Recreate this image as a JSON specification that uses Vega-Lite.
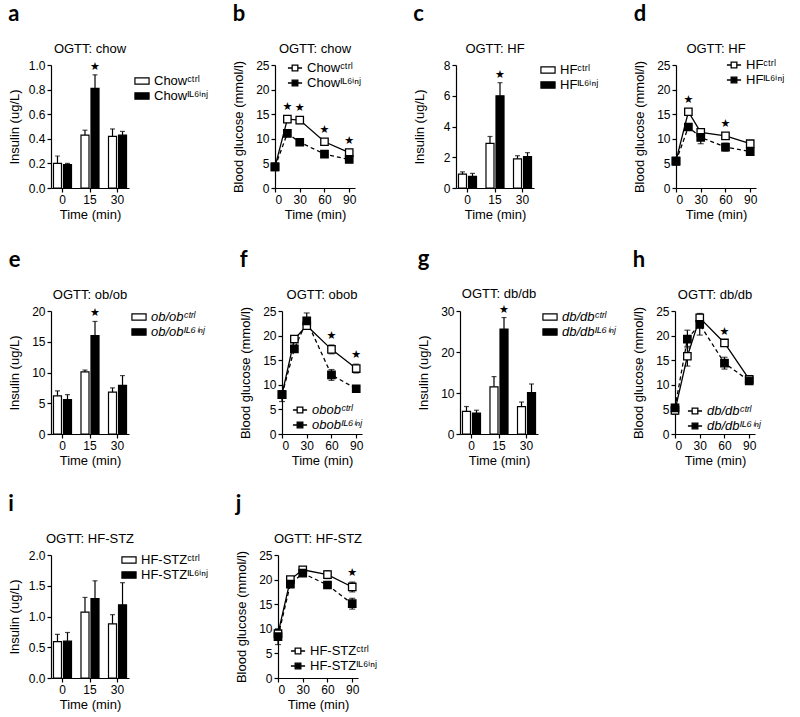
{
"$schema": "https://vega.github.io/schema/vega-lite/v6.json",
"background": "white",
"padding": {"left": 8, "top": 3, "right": 5, "bottom": 5},
"config": {
 "font": "Liberation Sans",
 "view": {"stroke": null},
 "axis": {"grid": false, "domainColor": "black", "tickColor": "black", "labelColor": "black", "titleColor": "black", "labelFontSize": 12, "titleFontSize": 13, "titleFontWeight": "normal", "tickSize": 4, "labelPadding": 2, "titlePadding": 10, "domainWidth": 1.2, "tickWidth": 1.2, "labelFont": "Liberation Sans", "titleFont": "Liberation Sans"},
 "axisX": {"labelAngle": 0, "titlePadding": 3},
 "legend": {"title": null, "labelFontSize": 13, "labelColor": "black", "orient": "none", "rowPadding": 0, "labelOffset": 4, "labelFont": "Liberation Sans"},
 "title": {"fontSize": 13, "fontWeight": "normal", "color": "black", "anchor": "middle", "frame": "group", "offset": 3, "font": "Liberation Sans"}
},
"datasets": {
 "a": [
  {"t": "0", "g": "Ctrl", "v": 0.20, "hi": 0.26},
  {"t": "0", "g": "IL6inj", "v": 0.19, "hi": 0.20},
  {"t": "15", "g": "Ctrl", "v": 0.43, "hi": 0.47},
  {"t": "15", "g": "IL6inj", "v": 0.81, "hi": 0.92, "sig": true},
  {"t": "30", "g": "Ctrl", "v": 0.42, "hi": 0.48},
  {"t": "30", "g": "IL6inj", "v": 0.43, "hi": 0.46}
 ],
 "b": [
  {"t": 0, "g": "Ctrl", "v": 4.3, "lo": 3.8, "hi": 4.8},
  {"t": 15, "g": "Ctrl", "v": 14.0, "lo": 13.3, "hi": 14.7, "sig": true},
  {"t": 30, "g": "Ctrl", "v": 13.8, "lo": 13.1, "hi": 14.5, "sig": true},
  {"t": 60, "g": "Ctrl", "v": 9.4, "lo": 8.9, "hi": 9.9, "sig": true},
  {"t": 90, "g": "Ctrl", "v": 7.2, "lo": 6.6, "hi": 7.8, "sig": true},
  {"t": 0, "g": "IL6inj", "v": 4.3, "lo": 3.9, "hi": 4.7},
  {"t": 15, "g": "IL6inj", "v": 11.1, "lo": 10.6, "hi": 11.6},
  {"t": 30, "g": "IL6inj", "v": 9.3, "lo": 8.9, "hi": 9.7},
  {"t": 60, "g": "IL6inj", "v": 6.9, "lo": 6.5, "hi": 7.3},
  {"t": 90, "g": "IL6inj", "v": 5.8, "lo": 5.3, "hi": 6.3}
 ],
 "c": [
  {"t": "0", "g": "Ctrl", "v": 0.9, "hi": 1.05},
  {"t": "0", "g": "IL6inj", "v": 0.75, "hi": 0.95},
  {"t": "15", "g": "Ctrl", "v": 2.9, "hi": 3.35},
  {"t": "15", "g": "IL6inj", "v": 6.0, "hi": 6.85, "sig": true},
  {"t": "30", "g": "Ctrl", "v": 1.9, "hi": 2.1},
  {"t": "30", "g": "IL6inj", "v": 2.05, "hi": 2.3}
 ],
 "d": [
  {"t": 0, "g": "Ctrl", "v": 5.5, "lo": 5.0, "hi": 6.0},
  {"t": 15, "g": "Ctrl", "v": 15.5, "lo": 14.9, "hi": 16.1, "sig": true},
  {"t": 30, "g": "Ctrl", "v": 11.3, "lo": 10.8, "hi": 11.8},
  {"t": 60, "g": "Ctrl", "v": 10.6, "lo": 10.1, "hi": 11.1, "sig": true},
  {"t": 90, "g": "Ctrl", "v": 9.0, "lo": 8.5, "hi": 9.5},
  {"t": 0, "g": "IL6inj", "v": 5.4, "lo": 5.0, "hi": 5.8},
  {"t": 15, "g": "IL6inj", "v": 12.4, "lo": 12.0, "hi": 12.8},
  {"t": 30, "g": "IL6inj", "v": 10.3, "lo": 9.0, "hi": 11.6},
  {"t": 60, "g": "IL6inj", "v": 8.3, "lo": 7.5, "hi": 9.1},
  {"t": 90, "g": "IL6inj", "v": 7.4, "lo": 7.0, "hi": 7.8}
 ],
 "e": [
  {"t": "0", "g": "Ctrl", "v": 6.2, "hi": 7.0},
  {"t": "0", "g": "IL6inj", "v": 5.6, "hi": 6.4},
  {"t": "15", "g": "Ctrl", "v": 10.1, "hi": 10.4},
  {"t": "15", "g": "IL6inj", "v": 16.0, "hi": 18.3, "sig": true},
  {"t": "30", "g": "Ctrl", "v": 6.8, "hi": 7.5},
  {"t": "30", "g": "IL6inj", "v": 7.9, "hi": 9.5}
 ],
 "f": [
  {"t": 0, "g": "Ctrl", "v": 8.0, "lo": 7.3, "hi": 8.7},
  {"t": 15, "g": "Ctrl", "v": 19.3, "lo": 18.7, "hi": 19.9},
  {"t": 30, "g": "Ctrl", "v": 22.0, "lo": 21.3, "hi": 22.7},
  {"t": 60, "g": "Ctrl", "v": 17.2, "lo": 16.3, "hi": 18.1, "sig": true},
  {"t": 90, "g": "Ctrl", "v": 13.3, "lo": 12.4, "hi": 14.2, "sig": true},
  {"t": 0, "g": "IL6inj", "v": 8.0, "lo": 6.6, "hi": 8.8},
  {"t": 15, "g": "IL6inj", "v": 17.3, "lo": 16.7, "hi": 17.9},
  {"t": 30, "g": "IL6inj", "v": 23.0, "lo": 21.4, "hi": 24.6},
  {"t": 60, "g": "IL6inj", "v": 12.0, "lo": 10.9, "hi": 13.1},
  {"t": 90, "g": "IL6inj", "v": 9.2, "lo": 8.7, "hi": 9.7}
 ],
 "g": [
  {"t": "0", "g": "Ctrl", "v": 5.5, "hi": 6.7},
  {"t": "0", "g": "IL6inj", "v": 5.1, "hi": 5.8},
  {"t": "15", "g": "Ctrl", "v": 11.5, "hi": 14.0},
  {"t": "15", "g": "IL6inj", "v": 25.6, "hi": 28.4, "sig": true},
  {"t": "30", "g": "Ctrl", "v": 6.7, "hi": 7.8},
  {"t": "30", "g": "IL6inj", "v": 10.1, "hi": 12.2}
 ],
 "h": [
  {"t": 0, "g": "Ctrl", "v": 4.8, "lo": 4.0, "hi": 5.6},
  {"t": 15, "g": "Ctrl", "v": 15.8, "lo": 13.8, "hi": 17.8},
  {"t": 30, "g": "Ctrl", "v": 23.6, "lo": 22.9, "hi": 24.3},
  {"t": 60, "g": "Ctrl", "v": 18.5, "lo": 18.0, "hi": 19.0, "sig": true},
  {"t": 90, "g": "Ctrl", "v": 11.1, "lo": 10.6, "hi": 11.6},
  {"t": 0, "g": "IL6inj", "v": 5.3, "lo": 4.6, "hi": 6.0},
  {"t": 15, "g": "IL6inj", "v": 19.3, "lo": 17.5, "hi": 21.1},
  {"t": 30, "g": "IL6inj", "v": 22.3, "lo": 20.1, "hi": 24.5},
  {"t": 60, "g": "IL6inj", "v": 14.4, "lo": 13.2, "hi": 15.6},
  {"t": 90, "g": "IL6inj", "v": 10.8, "lo": 10.3, "hi": 11.3}
 ],
 "i": [
  {"t": "0", "g": "Ctrl", "v": 0.59, "hi": 0.71},
  {"t": "0", "g": "IL6inj", "v": 0.60, "hi": 0.74},
  {"t": "15", "g": "Ctrl", "v": 1.07, "hi": 1.31},
  {"t": "15", "g": "IL6inj", "v": 1.29, "hi": 1.58},
  {"t": "30", "g": "Ctrl", "v": 0.88, "hi": 1.03},
  {"t": "30", "g": "IL6inj", "v": 1.19, "hi": 1.55}
 ],
 "j": [
  {"t": 0, "g": "Ctrl", "v": 9.0, "lo": 8.0, "hi": 10.0},
  {"t": 15, "g": "Ctrl", "v": 20.0, "lo": 19.5, "hi": 20.5},
  {"t": 30, "g": "Ctrl", "v": 22.0, "lo": 21.5, "hi": 22.5},
  {"t": 60, "g": "Ctrl", "v": 21.0, "lo": 20.2, "hi": 21.8},
  {"t": 90, "g": "Ctrl", "v": 18.5, "lo": 17.5, "hi": 19.5, "sig": true},
  {"t": 0, "g": "IL6inj", "v": 8.4, "lo": 6.8, "hi": 9.4},
  {"t": 15, "g": "IL6inj", "v": 19.1, "lo": 18.6, "hi": 19.6},
  {"t": 30, "g": "IL6inj", "v": 21.3, "lo": 20.8, "hi": 21.8},
  {"t": 60, "g": "IL6inj", "v": 18.9, "lo": 18.2, "hi": 19.6},
  {"t": 90, "g": "IL6inj", "v": 15.1, "lo": 14.0, "hi": 16.2}
 ]
},
"resolve": {"scale": {"fill": "independent", "x": "independent", "y": "independent", "xOffset": "independent"}, "legend": {"fill": "independent"}},
"spacing": 26,
"vconcat": [
 {
  "resolve": {"scale": {"fill": "independent", "x": "independent", "y": "independent", "xOffset": "independent"}, "legend": {"fill": "independent"}},
  "spacing": 51,
  "hconcat": [
   {
    "resolve": {"scale": {"fill": "independent", "x": "independent", "y": "independent", "xOffset": "independent"}, "legend": {"fill": "independent"}},
    "spacing": 23,
    "hconcat": [
     {
      "title": {"text": "a", "anchor": "start", "frame": "bounds", "fontSize": 22, "fontWeight": "bold", "font": "Lato", "offset": 17},
      "vconcat": [
       {
        "title": "OGTT: chow",
        "width": 78, "height": 123,
        "data": {"name": "a"},
        "encoding": {
         "x": {"field": "t", "type": "ordinal", "sort": ["0", "15", "30"], "title": "Time (min)", "scale": {"paddingInner": 0.345, "paddingOuter": 0.09}},
         "xOffset": {"field": "g", "type": "nominal", "sort": ["Ctrl", "IL6inj"], "scale": {"paddingInner": 0.2, "paddingOuter": 0}}
        },
        "layer": [
         {"mark": {"type": "rule", "color": "black", "strokeWidth": 1.2}, "encoding": {"y": {"field": "v", "type": "quantitative", "scale": {"domain": [0, 1]}, "title": "Insulin (ug/L)", "axis": {"values": [0, 0.2, 0.4, 0.6, 0.8, 1], "format": ".1f", "titlePadding": 7}}, "y2": {"field": "hi"}}},
         {"mark": {"type": "tick", "orient": "horizontal", "color": "black", "size": 5, "thickness": 1.2}, "encoding": {"y": {"field": "hi", "type": "quantitative", "scale": {"domain": [0, 1]}, "title": "Insulin (ug/L)", "axis": {"values": [0, 0.2, 0.4, 0.6, 0.8, 1], "format": ".1f", "titlePadding": 7}}}},
         {"mark": {"type": "bar", "stroke": "black", "strokeWidth": 1.2}, "encoding": {"y": {"field": "v", "type": "quantitative", "scale": {"domain": [0, 1]}, "title": "Insulin (ug/L)", "axis": {"values": [0, 0.2, 0.4, 0.6, 0.8, 1], "format": ".1f", "titlePadding": 7}},
           "fill": {"field": "g", "type": "nominal", "scale": {"domain": ["Ctrl", "IL6inj"], "range": ["white", "black"]}, "legend": {"legendX": 83, "legendY": 8, "labelExpr": "'Chow' + (datum.label == 'Ctrl' ? 'ᶜᵗʳˡ' : 'ᴵᴸ⁶ⁱⁿʲ')", "symbolType": "M-1,-0.45H1V0.45H-1Z", "symbolSize": 200, "symbolStrokeColor": "black", "symbolStrokeWidth": 1.2, "encode": {"symbols": {"update": {"shape": {"value": "M-1,-0.45H1V0.45H-1Z"}, "stroke": {"value": "black"}, "strokeWidth": {"value": 1.2}}}}}}}},
         {"transform": [{"filter": "datum.sig"}], "mark": {"type": "text", "text": "★", "dy": -8, "fontSize": 11, "color": "black", "font": "DejaVu Sans"}, "encoding": {"y": {"field": "hi", "type": "quantitative", "scale": {"domain": [0, 1]}, "title": "Insulin (ug/L)", "axis": {"values": [0, 0.2, 0.4, 0.6, 0.8, 1], "format": ".1f", "titlePadding": 7}}}}
        ]
       }
      ]
     },
     {
      "title": {"text": "b", "anchor": "start", "frame": "bounds", "fontSize": 22, "fontWeight": "bold", "font": "Lato", "offset": 17},
      "vconcat": [
       {
        "title": "OGTT: chow",
        "width": 80, "height": 123,
        "data": {"name": "b"},
        "encoding": {
         "x": {"field": "t", "type": "quantitative", "scale": {"domain": [0, 97], "nice": false}, "title": "Time (min)", "axis": {"values": [0, 30, 60, 90]}}
        },
        "layer": [
         {"mark": {"type": "rule", "color": "black", "strokeWidth": 1.2}, "encoding": {"y": {"field": "lo", "type": "quantitative", "scale": {"domain": [0, 25]}, "title": "Blood glucose (mmol/l)", "axis": {"values": [0, 5, 10, 15, 20, 25]}}, "y2": {"field": "hi"}}},
         {"mark": {"type": "tick", "orient": "horizontal", "color": "black", "size": 6, "thickness": 1.2}, "encoding": {"y": {"field": "lo", "type": "quantitative", "scale": {"domain": [0, 25]}, "title": "Blood glucose (mmol/l)", "axis": {"values": [0, 5, 10, 15, 20, 25]}}}},
         {"mark": {"type": "tick", "orient": "horizontal", "color": "black", "size": 6, "thickness": 1.2}, "encoding": {"y": {"field": "hi", "type": "quantitative", "scale": {"domain": [0, 25]}, "title": "Blood glucose (mmol/l)", "axis": {"values": [0, 5, 10, 15, 20, 25]}}}},
         {"transform": [{"filter": "datum.g == 'Ctrl'"}], "mark": {"type": "line", "color": "black", "strokeWidth": 1.3}, "encoding": {"y": {"field": "v", "type": "quantitative", "scale": {"domain": [0, 25]}, "title": "Blood glucose (mmol/l)", "axis": {"values": [0, 5, 10, 15, 20, 25]}}}},
         {"transform": [{"filter": "datum.g == 'IL6inj'"}], "mark": {"type": "line", "color": "black", "strokeWidth": 1.3, "strokeDash": [4, 3]}, "encoding": {"y": {"field": "v", "type": "quantitative", "scale": {"domain": [0, 25]}, "title": "Blood glucose (mmol/l)", "axis": {"values": [0, 5, 10, 15, 20, 25]}}}},
         {"mark": {"type": "point", "shape": "square", "filled": true, "stroke": "black", "strokeWidth": 1.3, "size": 55, "opacity": 1}, "encoding": {"y": {"field": "v", "type": "quantitative", "scale": {"domain": [0, 25]}, "title": "Blood glucose (mmol/l)", "axis": {"values": [0, 5, 10, 15, 20, 25]}},
           "fill": {"field": "g", "type": "nominal", "scale": {"domain": ["Ctrl", "IL6inj"], "range": ["white", "black"]}, "legend": {"legendX": 12, "legendY": -5, "labelExpr": "'Chow' + (datum.label == 'Ctrl' ? 'ᶜᵗʳˡ' : 'ᴵᴸ⁶ⁱⁿʲ')", "symbolType": "M-1,0H-0.4M0.4,0H1M-0.4,-0.4H0.4V0.4H-0.4Z", "symbolSize": 200, "symbolStrokeColor": "black", "symbolStrokeWidth": 1.3}}}},
         {"transform": [{"filter": "datum.sig"}], "mark": {"type": "text", "text": "★", "dy": -9, "fontSize": 11, "color": "black", "font": "DejaVu Sans"}, "encoding": {"y": {"field": "hi", "type": "quantitative", "scale": {"domain": [0, 25]}, "title": "Blood glucose (mmol/l)", "axis": {"values": [0, 5, 10, 15, 20, 25]}}}}
        ]
       }
      ]
     }
    ]
   },
   {
    "resolve": {"scale": {"fill": "independent", "x": "independent", "y": "independent", "xOffset": "independent"}, "legend": {"fill": "independent"}},
    "spacing": 34,
    "hconcat": [
     {
      "title": {"text": "c", "anchor": "start", "frame": "bounds", "fontSize": 22, "fontWeight": "bold", "font": "Lato", "offset": 17},
      "vconcat": [
       {
        "title": "OGTT: HF",
        "width": 78, "height": 123,
        "data": {"name": "c"},
        "encoding": {
         "x": {"field": "t", "type": "ordinal", "sort": ["0", "15", "30"], "title": "Time (min)", "scale": {"paddingInner": 0.345, "paddingOuter": 0.09}},
         "xOffset": {"field": "g", "type": "nominal", "sort": ["Ctrl", "IL6inj"], "scale": {"paddingInner": 0.2, "paddingOuter": 0}}
        },
        "layer": [
         {"mark": {"type": "rule", "color": "black", "strokeWidth": 1.2}, "encoding": {"y": {"field": "v", "type": "quantitative", "scale": {"domain": [0, 8]}, "title": "Insulin (ug/L)", "axis": {"values": [0, 2, 4, 6, 8], "titlePadding": 17}}, "y2": {"field": "hi"}}},
         {"mark": {"type": "tick", "orient": "horizontal", "color": "black", "size": 5, "thickness": 1.2}, "encoding": {"y": {"field": "hi", "type": "quantitative", "scale": {"domain": [0, 8]}, "title": "Insulin (ug/L)", "axis": {"values": [0, 2, 4, 6, 8], "titlePadding": 17}}}},
         {"mark": {"type": "bar", "stroke": "black", "strokeWidth": 1.2}, "encoding": {"y": {"field": "v", "type": "quantitative", "scale": {"domain": [0, 8]}, "title": "Insulin (ug/L)", "axis": {"values": [0, 2, 4, 6, 8], "titlePadding": 17}},
           "fill": {"field": "g", "type": "nominal", "scale": {"domain": ["Ctrl", "IL6inj"], "range": ["white", "black"]}, "legend": {"legendX": 84, "legendY": -3, "labelExpr": "'HF' + (datum.label == 'Ctrl' ? 'ᶜᵗʳˡ' : 'ᴵᴸ⁶ⁱⁿʲ')", "symbolType": "M-1,-0.45H1V0.45H-1Z", "symbolSize": 200, "symbolStrokeColor": "black", "symbolStrokeWidth": 1.2, "encode": {"symbols": {"update": {"shape": {"value": "M-1,-0.45H1V0.45H-1Z"}, "stroke": {"value": "black"}, "strokeWidth": {"value": 1.2}}}}}}}},
         {"transform": [{"filter": "datum.sig"}], "mark": {"type": "text", "text": "★", "dy": -8, "fontSize": 11, "color": "black", "font": "DejaVu Sans"}, "encoding": {"y": {"field": "hi", "type": "quantitative", "scale": {"domain": [0, 8]}, "title": "Insulin (ug/L)", "axis": {"values": [0, 2, 4, 6, 8], "titlePadding": 17}}}}
        ]
       }
      ]
     },
     {
      "title": {"text": "d", "anchor": "start", "frame": "bounds", "fontSize": 22, "fontWeight": "bold", "font": "Lato", "offset": 17},
      "vconcat": [
       {
        "title": "OGTT: HF",
        "width": 80, "height": 123,
        "data": {"name": "d"},
        "encoding": {
         "x": {"field": "t", "type": "quantitative", "scale": {"domain": [0, 97], "nice": false}, "title": "Time (min)", "axis": {"values": [0, 30, 60, 90]}}
        },
        "layer": [
         {"mark": {"type": "rule", "color": "black", "strokeWidth": 1.2}, "encoding": {"y": {"field": "lo", "type": "quantitative", "scale": {"domain": [0, 25]}, "title": "Blood glucose (mmol/l)", "axis": {"values": [0, 5, 10, 15, 20, 25]}}, "y2": {"field": "hi"}}},
         {"mark": {"type": "tick", "orient": "horizontal", "color": "black", "size": 6, "thickness": 1.2}, "encoding": {"y": {"field": "lo", "type": "quantitative", "scale": {"domain": [0, 25]}, "title": "Blood glucose (mmol/l)", "axis": {"values": [0, 5, 10, 15, 20, 25]}}}},
         {"mark": {"type": "tick", "orient": "horizontal", "color": "black", "size": 6, "thickness": 1.2}, "encoding": {"y": {"field": "hi", "type": "quantitative", "scale": {"domain": [0, 25]}, "title": "Blood glucose (mmol/l)", "axis": {"values": [0, 5, 10, 15, 20, 25]}}}},
         {"transform": [{"filter": "datum.g == 'Ctrl'"}], "mark": {"type": "line", "color": "black", "strokeWidth": 1.3}, "encoding": {"y": {"field": "v", "type": "quantitative", "scale": {"domain": [0, 25]}, "title": "Blood glucose (mmol/l)", "axis": {"values": [0, 5, 10, 15, 20, 25]}}}},
         {"transform": [{"filter": "datum.g == 'IL6inj'"}], "mark": {"type": "line", "color": "black", "strokeWidth": 1.3, "strokeDash": [4, 3]}, "encoding": {"y": {"field": "v", "type": "quantitative", "scale": {"domain": [0, 25]}, "title": "Blood glucose (mmol/l)", "axis": {"values": [0, 5, 10, 15, 20, 25]}}}},
         {"mark": {"type": "point", "shape": "square", "filled": true, "stroke": "black", "strokeWidth": 1.3, "size": 55, "opacity": 1}, "encoding": {"y": {"field": "v", "type": "quantitative", "scale": {"domain": [0, 25]}, "title": "Blood glucose (mmol/l)", "axis": {"values": [0, 5, 10, 15, 20, 25]}},
           "fill": {"field": "g", "type": "nominal", "scale": {"domain": ["Ctrl", "IL6inj"], "range": ["white", "black"]}, "legend": {"legendX": 50, "legendY": -8, "labelExpr": "'HF' + (datum.label == 'Ctrl' ? 'ᶜᵗʳˡ' : 'ᴵᴸ⁶ⁱⁿʲ')", "symbolType": "M-1,0H-0.4M0.4,0H1M-0.4,-0.4H0.4V0.4H-0.4Z", "symbolSize": 200, "symbolStrokeColor": "black", "symbolStrokeWidth": 1.3}}}},
         {"transform": [{"filter": "datum.sig"}], "mark": {"type": "text", "text": "★", "dy": -9, "fontSize": 11, "color": "black", "font": "DejaVu Sans"}, "encoding": {"y": {"field": "hi", "type": "quantitative", "scale": {"domain": [0, 25]}, "title": "Blood glucose (mmol/l)", "axis": {"values": [0, 5, 10, 15, 20, 25]}}}}
        ]
       }
      ]
     }
    ]
   }
  ]
 },
 {
  "resolve": {"scale": {"fill": "independent", "x": "independent", "y": "independent", "xOffset": "independent"}, "legend": {"fill": "independent"}},
  "spacing": 54,
  "hconcat": [
   {
    "resolve": {"scale": {"fill": "independent", "x": "independent", "y": "independent", "xOffset": "independent"}, "legend": {"fill": "independent"}},
    "spacing": 34,
    "hconcat": [
     {
      "title": {"text": "e", "anchor": "start", "frame": "bounds", "fontSize": 22, "fontWeight": "bold", "font": "Lato", "offset": 17},
      "vconcat": [
       {
        "title": "OGTT: ob/ob",
        "width": 78, "height": 123,
        "data": {"name": "e"},
        "encoding": {
         "x": {"field": "t", "type": "ordinal", "sort": ["0", "15", "30"], "title": "Time (min)", "scale": {"paddingInner": 0.345, "paddingOuter": 0.09}},
         "xOffset": {"field": "g", "type": "nominal", "sort": ["Ctrl", "IL6inj"], "scale": {"paddingInner": 0.2, "paddingOuter": 0}}
        },
        "layer": [
         {"mark": {"type": "rule", "color": "black", "strokeWidth": 1.2}, "encoding": {"y": {"field": "v", "type": "quantitative", "scale": {"domain": [0, 20]}, "title": "Insulin (ug/L)", "axis": {"values": [0, 5, 10, 15, 20]}}, "y2": {"field": "hi"}}},
         {"mark": {"type": "tick", "orient": "horizontal", "color": "black", "size": 5, "thickness": 1.2}, "encoding": {"y": {"field": "hi", "type": "quantitative", "scale": {"domain": [0, 20]}, "title": "Insulin (ug/L)", "axis": {"values": [0, 5, 10, 15, 20]}}}},
         {"mark": {"type": "bar", "stroke": "black", "strokeWidth": 1.2}, "encoding": {"y": {"field": "v", "type": "quantitative", "scale": {"domain": [0, 20]}, "title": "Insulin (ug/L)", "axis": {"values": [0, 5, 10, 15, 20]}},
           "fill": {"field": "g", "type": "nominal", "scale": {"domain": ["Ctrl", "IL6inj"], "range": ["white", "black"]}, "legend": {"legendX": 80, "legendY": -2, "labelFontStyle": "italic", "labelExpr": "'ob/ob' + (datum.label == 'Ctrl' ? 'ᶜᵗʳˡ' : 'ᴵᴸ⁶ⁱⁿʲ')", "symbolType": "M-1,-0.45H1V0.45H-1Z", "symbolSize": 200, "symbolStrokeColor": "black", "symbolStrokeWidth": 1.2, "encode": {"symbols": {"update": {"shape": {"value": "M-1,-0.45H1V0.45H-1Z"}, "stroke": {"value": "black"}, "strokeWidth": {"value": 1.2}}}}}}}},
         {"transform": [{"filter": "datum.sig"}], "mark": {"type": "text", "text": "★", "dy": -8, "fontSize": 11, "color": "black", "font": "DejaVu Sans"}, "encoding": {"y": {"field": "hi", "type": "quantitative", "scale": {"domain": [0, 20]}, "title": "Insulin (ug/L)", "axis": {"values": [0, 5, 10, 15, 20]}}}}
        ]
       }
      ]
     },
     {
      "title": {"text": "f", "anchor": "start", "frame": "bounds", "fontSize": 22, "fontWeight": "bold", "font": "Lato", "offset": 17},
      "vconcat": [
       {
        "title": "OGTT: obob",
        "width": 80, "height": 123,
        "data": {"name": "f"},
        "encoding": {
         "x": {"field": "t", "type": "quantitative", "scale": {"domain": [0, 97], "nice": false}, "title": "Time (min)", "axis": {"values": [0, 30, 60, 90]}}
        },
        "layer": [
         {"mark": {"type": "rule", "color": "black", "strokeWidth": 1.2}, "encoding": {"y": {"field": "lo", "type": "quantitative", "scale": {"domain": [0, 25]}, "title": "Blood glucose (mmol/l)", "axis": {"values": [0, 5, 10, 15, 20, 25]}}, "y2": {"field": "hi"}}},
         {"mark": {"type": "tick", "orient": "horizontal", "color": "black", "size": 6, "thickness": 1.2}, "encoding": {"y": {"field": "lo", "type": "quantitative", "scale": {"domain": [0, 25]}, "title": "Blood glucose (mmol/l)", "axis": {"values": [0, 5, 10, 15, 20, 25]}}}},
         {"mark": {"type": "tick", "orient": "horizontal", "color": "black", "size": 6, "thickness": 1.2}, "encoding": {"y": {"field": "hi", "type": "quantitative", "scale": {"domain": [0, 25]}, "title": "Blood glucose (mmol/l)", "axis": {"values": [0, 5, 10, 15, 20, 25]}}}},
         {"transform": [{"filter": "datum.g == 'Ctrl'"}], "mark": {"type": "line", "color": "black", "strokeWidth": 1.3}, "encoding": {"y": {"field": "v", "type": "quantitative", "scale": {"domain": [0, 25]}, "title": "Blood glucose (mmol/l)", "axis": {"values": [0, 5, 10, 15, 20, 25]}}}},
         {"transform": [{"filter": "datum.g == 'IL6inj'"}], "mark": {"type": "line", "color": "black", "strokeWidth": 1.3, "strokeDash": [4, 3]}, "encoding": {"y": {"field": "v", "type": "quantitative", "scale": {"domain": [0, 25]}, "title": "Blood glucose (mmol/l)", "axis": {"values": [0, 5, 10, 15, 20, 25]}}}},
         {"mark": {"type": "point", "shape": "square", "filled": true, "stroke": "black", "strokeWidth": 1.3, "size": 55, "opacity": 1}, "encoding": {"y": {"field": "v", "type": "quantitative", "scale": {"domain": [0, 25]}, "title": "Blood glucose (mmol/l)", "axis": {"values": [0, 5, 10, 15, 20, 25]}},
           "fill": {"field": "g", "type": "nominal", "scale": {"domain": ["Ctrl", "IL6inj"], "range": ["white", "black"]}, "legend": {"legendX": 10, "legendY": 91, "labelFontStyle": "italic", "labelExpr": "'obob' + (datum.label == 'Ctrl' ? 'ᶜᵗʳˡ' : 'ᴵᴸ⁶ⁱⁿʲ')", "symbolType": "M-1,0H-0.4M0.4,0H1M-0.4,-0.4H0.4V0.4H-0.4Z", "symbolSize": 200, "symbolStrokeColor": "black", "symbolStrokeWidth": 1.3}}}},
         {"transform": [{"filter": "datum.sig"}], "mark": {"type": "text", "text": "★", "dy": -9, "fontSize": 11, "color": "black", "font": "DejaVu Sans"}, "encoding": {"y": {"field": "hi", "type": "quantitative", "scale": {"domain": [0, 25]}, "title": "Blood glucose (mmol/l)", "axis": {"values": [0, 5, 10, 15, 20, 25]}}}}
        ]
       }
      ]
     }
    ]
   },
   {
    "resolve": {"scale": {"fill": "independent", "x": "independent", "y": "independent", "xOffset": "independent"}, "legend": {"fill": "independent"}},
    "spacing": 16,
    "hconcat": [
     {
      "title": {"text": "g", "anchor": "start", "frame": "bounds", "fontSize": 22, "fontWeight": "bold", "font": "Lato", "offset": 17},
      "vconcat": [
       {
        "title": "OGTT: db/db",
        "width": 78, "height": 123,
        "data": {"name": "g"},
        "encoding": {
         "x": {"field": "t", "type": "ordinal", "sort": ["0", "15", "30"], "title": "Time (min)", "scale": {"paddingInner": 0.345, "paddingOuter": 0.09}},
         "xOffset": {"field": "g", "type": "nominal", "sort": ["Ctrl", "IL6inj"], "scale": {"paddingInner": 0.2, "paddingOuter": 0}}
        },
        "layer": [
         {"mark": {"type": "rule", "color": "black", "strokeWidth": 1.2}, "encoding": {"y": {"field": "v", "type": "quantitative", "scale": {"domain": [0, 30]}, "title": "Insulin (ug/L)", "axis": {"values": [0, 10, 20, 30]}}, "y2": {"field": "hi"}}},
         {"mark": {"type": "tick", "orient": "horizontal", "color": "black", "size": 5, "thickness": 1.2}, "encoding": {"y": {"field": "hi", "type": "quantitative", "scale": {"domain": [0, 30]}, "title": "Insulin (ug/L)", "axis": {"values": [0, 10, 20, 30]}}}},
         {"mark": {"type": "bar", "stroke": "black", "strokeWidth": 1.2}, "encoding": {"y": {"field": "v", "type": "quantitative", "scale": {"domain": [0, 30]}, "title": "Insulin (ug/L)", "axis": {"values": [0, 10, 20, 30]}},
           "fill": {"field": "g", "type": "nominal", "scale": {"domain": ["Ctrl", "IL6inj"], "range": ["white", "black"]}, "legend": {"legendX": 82, "legendY": -2, "labelFontStyle": "italic", "labelExpr": "'db/db' + (datum.label == 'Ctrl' ? 'ᶜᵗʳˡ' : 'ᴵᴸ⁶ⁱⁿʲ')", "symbolType": "M-1,-0.45H1V0.45H-1Z", "symbolSize": 200, "symbolStrokeColor": "black", "symbolStrokeWidth": 1.2, "encode": {"symbols": {"update": {"shape": {"value": "M-1,-0.45H1V0.45H-1Z"}, "stroke": {"value": "black"}, "strokeWidth": {"value": 1.2}}}}}}}},
         {"transform": [{"filter": "datum.sig"}], "mark": {"type": "text", "text": "★", "dy": -8, "fontSize": 11, "color": "black", "font": "DejaVu Sans"}, "encoding": {"y": {"field": "hi", "type": "quantitative", "scale": {"domain": [0, 30]}, "title": "Insulin (ug/L)", "axis": {"values": [0, 10, 20, 30]}}}}
        ]
       }
      ]
     },
     {
      "title": {"text": "h", "anchor": "start", "frame": "bounds", "fontSize": 22, "fontWeight": "bold", "font": "Lato", "offset": 17},
      "vconcat": [
       {
        "title": "OGTT: db/db",
        "width": 80, "height": 123,
        "data": {"name": "h"},
        "encoding": {
         "x": {"field": "t", "type": "quantitative", "scale": {"domain": [0, 97], "nice": false}, "title": "Time (min)", "axis": {"values": [0, 30, 60, 90]}}
        },
        "layer": [
         {"mark": {"type": "rule", "color": "black", "strokeWidth": 1.2}, "encoding": {"y": {"field": "lo", "type": "quantitative", "scale": {"domain": [0, 25]}, "title": "Blood glucose (mmol/l)", "axis": {"values": [0, 5, 10, 15, 20, 25]}}, "y2": {"field": "hi"}}},
         {"mark": {"type": "tick", "orient": "horizontal", "color": "black", "size": 6, "thickness": 1.2}, "encoding": {"y": {"field": "lo", "type": "quantitative", "scale": {"domain": [0, 25]}, "title": "Blood glucose (mmol/l)", "axis": {"values": [0, 5, 10, 15, 20, 25]}}}},
         {"mark": {"type": "tick", "orient": "horizontal", "color": "black", "size": 6, "thickness": 1.2}, "encoding": {"y": {"field": "hi", "type": "quantitative", "scale": {"domain": [0, 25]}, "title": "Blood glucose (mmol/l)", "axis": {"values": [0, 5, 10, 15, 20, 25]}}}},
         {"transform": [{"filter": "datum.g == 'Ctrl'"}], "mark": {"type": "line", "color": "black", "strokeWidth": 1.3}, "encoding": {"y": {"field": "v", "type": "quantitative", "scale": {"domain": [0, 25]}, "title": "Blood glucose (mmol/l)", "axis": {"values": [0, 5, 10, 15, 20, 25]}}}},
         {"transform": [{"filter": "datum.g == 'IL6inj'"}], "mark": {"type": "line", "color": "black", "strokeWidth": 1.3, "strokeDash": [4, 3]}, "encoding": {"y": {"field": "v", "type": "quantitative", "scale": {"domain": [0, 25]}, "title": "Blood glucose (mmol/l)", "axis": {"values": [0, 5, 10, 15, 20, 25]}}}},
         {"mark": {"type": "point", "shape": "square", "filled": true, "stroke": "black", "strokeWidth": 1.3, "size": 55, "opacity": 1}, "encoding": {"y": {"field": "v", "type": "quantitative", "scale": {"domain": [0, 25]}, "title": "Blood glucose (mmol/l)", "axis": {"values": [0, 5, 10, 15, 20, 25]}},
           "fill": {"field": "g", "type": "nominal", "scale": {"domain": ["Ctrl", "IL6inj"], "range": ["white", "black"]}, "legend": {"legendX": 12, "legendY": 92, "labelFontStyle": "italic", "labelExpr": "'db/db' + (datum.label == 'Ctrl' ? 'ᶜᵗʳˡ' : 'ᴵᴸ⁶ⁱⁿʲ')", "symbolType": "M-1,0H-0.4M0.4,0H1M-0.4,-0.4H0.4V0.4H-0.4Z", "symbolSize": 200, "symbolStrokeColor": "black", "symbolStrokeWidth": 1.3}}}},
         {"transform": [{"filter": "datum.sig"}], "mark": {"type": "text", "text": "★", "dy": -9, "fontSize": 11, "color": "black", "font": "DejaVu Sans"}, "encoding": {"y": {"field": "hi", "type": "quantitative", "scale": {"domain": [0, 25]}, "title": "Blood glucose (mmol/l)", "axis": {"values": [0, 5, 10, 15, 20, 25]}}}}
        ]
       }
      ]
     }
    ]
   }
  ]
 },
 {
  "resolve": {"scale": {"fill": "independent", "x": "independent", "y": "independent", "xOffset": "independent"}, "legend": {"fill": "independent"}},
  "spacing": 26,
  "hconcat": [
   {
    "title": {"text": "i", "anchor": "start", "frame": "bounds", "fontSize": 22, "fontWeight": "bold", "font": "Lato", "offset": 17},
    "vconcat": [
     {
      "title": "OGTT: HF-STZ",
      "width": 78, "height": 123,
      "data": {"name": "i"},
      "encoding": {
       "x": {"field": "t", "type": "ordinal", "sort": ["0", "15", "30"], "title": "Time (min)", "scale": {"paddingInner": 0.345, "paddingOuter": 0.09}},
       "xOffset": {"field": "g", "type": "nominal", "sort": ["Ctrl", "IL6inj"], "scale": {"paddingInner": 0.2, "paddingOuter": 0}}
      },
      "layer": [
       {"mark": {"type": "rule", "color": "black", "strokeWidth": 1.2}, "encoding": {"y": {"field": "v", "type": "quantitative", "scale": {"domain": [0, 2]}, "title": "Insulin (ug/L)", "axis": {"values": [0, 0.5, 1, 1.5, 2], "format": ".1f", "titlePadding": 7}}, "y2": {"field": "hi"}}},
       {"mark": {"type": "tick", "orient": "horizontal", "color": "black", "size": 5, "thickness": 1.2}, "encoding": {"y": {"field": "hi", "type": "quantitative", "scale": {"domain": [0, 2]}, "title": "Insulin (ug/L)", "axis": {"values": [0, 0.5, 1, 1.5, 2], "format": ".1f", "titlePadding": 7}}}},
       {"mark": {"type": "bar", "stroke": "black", "strokeWidth": 1.2}, "encoding": {"y": {"field": "v", "type": "quantitative", "scale": {"domain": [0, 2]}, "title": "Insulin (ug/L)", "axis": {"values": [0, 0.5, 1, 1.5, 2], "format": ".1f", "titlePadding": 7}},
         "fill": {"field": "g", "type": "nominal", "scale": {"domain": ["Ctrl", "IL6inj"], "range": ["white", "black"]}, "legend": {"legendX": 70, "legendY": -3, "labelExpr": "'HF-STZ' + (datum.label == 'Ctrl' ? 'ᶜᵗʳˡ' : 'ᴵᴸ⁶ⁱⁿʲ')", "symbolType": "M-1,-0.45H1V0.45H-1Z", "symbolSize": 200, "symbolStrokeColor": "black", "symbolStrokeWidth": 1.2, "encode": {"symbols": {"update": {"shape": {"value": "M-1,-0.45H1V0.45H-1Z"}, "stroke": {"value": "black"}, "strokeWidth": {"value": 1.2}}}}}}}}
      ]
     }
    ]
   },
   {
    "title": {"text": "j", "anchor": "start", "frame": "bounds", "fontSize": 22, "fontWeight": "bold", "font": "Lato", "offset": 17},
    "vconcat": [
     {
      "title": "OGTT: HF-STZ",
      "width": 80, "height": 123,
      "data": {"name": "j"},
      "encoding": {
       "x": {"field": "t", "type": "quantitative", "scale": {"domain": [0, 97], "nice": false}, "title": "Time (min)", "axis": {"values": [0, 30, 60, 90]}}
      },
      "layer": [
       {"mark": {"type": "rule", "color": "black", "strokeWidth": 1.2}, "encoding": {"y": {"field": "lo", "type": "quantitative", "scale": {"domain": [0, 25]}, "title": "Blood glucose (mmol/l)", "axis": {"values": [0, 5, 10, 15, 20, 25]}}, "y2": {"field": "hi"}}},
       {"mark": {"type": "tick", "orient": "horizontal", "color": "black", "size": 6, "thickness": 1.2}, "encoding": {"y": {"field": "lo", "type": "quantitative", "scale": {"domain": [0, 25]}, "title": "Blood glucose (mmol/l)", "axis": {"values": [0, 5, 10, 15, 20, 25]}}}},
       {"mark": {"type": "tick", "orient": "horizontal", "color": "black", "size": 6, "thickness": 1.2}, "encoding": {"y": {"field": "hi", "type": "quantitative", "scale": {"domain": [0, 25]}, "title": "Blood glucose (mmol/l)", "axis": {"values": [0, 5, 10, 15, 20, 25]}}}},
       {"transform": [{"filter": "datum.g == 'Ctrl'"}], "mark": {"type": "line", "color": "black", "strokeWidth": 1.3}, "encoding": {"y": {"field": "v", "type": "quantitative", "scale": {"domain": [0, 25]}, "title": "Blood glucose (mmol/l)", "axis": {"values": [0, 5, 10, 15, 20, 25]}}}},
       {"transform": [{"filter": "datum.g == 'IL6inj'"}], "mark": {"type": "line", "color": "black", "strokeWidth": 1.3, "strokeDash": [4, 3]}, "encoding": {"y": {"field": "v", "type": "quantitative", "scale": {"domain": [0, 25]}, "title": "Blood glucose (mmol/l)", "axis": {"values": [0, 5, 10, 15, 20, 25]}}}},
       {"mark": {"type": "point", "shape": "square", "filled": true, "stroke": "black", "strokeWidth": 1.3, "size": 55, "opacity": 1}, "encoding": {"y": {"field": "v", "type": "quantitative", "scale": {"domain": [0, 25]}, "title": "Blood glucose (mmol/l)", "axis": {"values": [0, 5, 10, 15, 20, 25]}},
         "fill": {"field": "g", "type": "nominal", "scale": {"domain": ["Ctrl", "IL6inj"], "range": ["white", "black"]}, "legend": {"legendX": 12, "legendY": 88, "labelExpr": "'HF-STZ' + (datum.label == 'Ctrl' ? 'ᶜᵗʳˡ' : 'ᴵᴸ⁶ⁱⁿʲ')", "symbolType": "M-1,0H-0.4M0.4,0H1M-0.4,-0.4H0.4V0.4H-0.4Z", "symbolSize": 200, "symbolStrokeColor": "black", "symbolStrokeWidth": 1.3}}}},
       {"transform": [{"filter": "datum.sig"}], "mark": {"type": "text", "text": "★", "dy": -9, "fontSize": 11, "color": "black", "font": "DejaVu Sans"}, "encoding": {"y": {"field": "hi", "type": "quantitative", "scale": {"domain": [0, 25]}, "title": "Blood glucose (mmol/l)", "axis": {"values": [0, 5, 10, 15, 20, 25]}}}}
      ]
     }
    ]
   }
  ]
 }
]
}
